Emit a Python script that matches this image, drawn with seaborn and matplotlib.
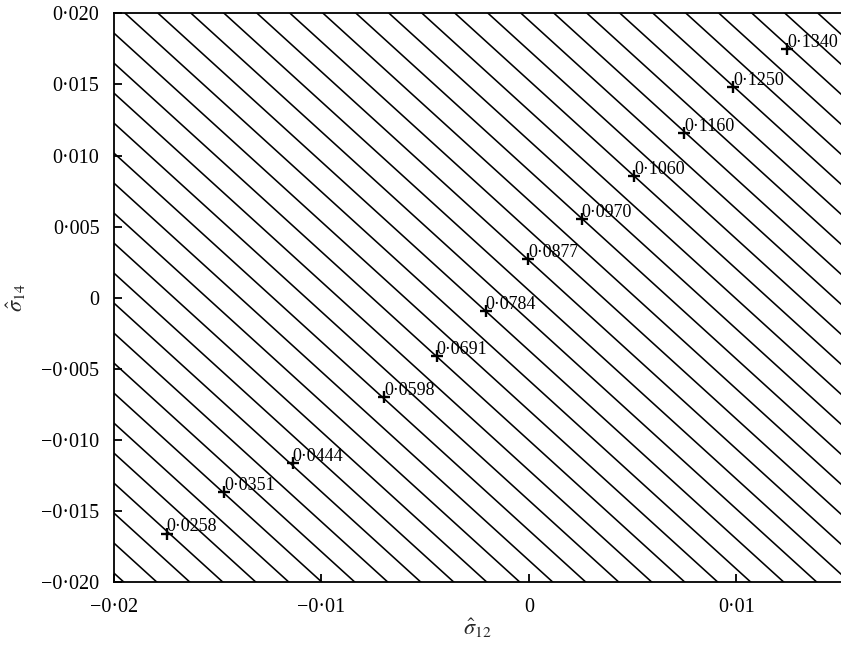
import numpy as np
import pandas as pd
import matplotlib
matplotlib.use("Agg")
import matplotlib.pyplot as plt
import seaborn as sns
from matplotlib.ticker import FixedLocator, FixedFormatter

# ---- data ----
sigma12 = [-0.01746, -0.01470, -0.01139, -0.00699, -0.00445, -0.00209,
           -0.00003, 0.00254, 0.00506, 0.00747, 0.00985, 0.01245]
sigma14 = [-0.01657, -0.01364, -0.01160, -0.00696, -0.00408, -0.00091,
           0.00272, 0.00553, 0.00858, 0.01160, 0.01480, 0.01749]
point_labels = ["0·0258", "0·0351", "0·0444", "0·0598", "0·0691", "0·0784",
                "0·0877", "0·0970", "0·1060", "0·1160", "0·1250", "0·1340"]

# linear field whose contours are drawn: v = c0 + a*s12 + b*s14
field_c0 = 0.08377
field_a = 1.9436
field_b = 1.4657
level_base = 0.0258
level_step = 0.003091
level_k = np.arange(-8, 42)

xticks = [-0.02, -0.01, 0.0, 0.01]
xticklabels = ["−0·02", "−0·01", "0", "0·01"]
yticks = [-0.020, -0.015, -0.010, -0.005, 0.0, 0.005, 0.010, 0.015, 0.020]
yticklabels = ["−0·020", "−0·015", "−0·010", "−0·005", "0",
               "0·005", "0·010", "0·015", "0·020"]

# ---- style ----
sns.set_style("white")
plt.rcParams["font.family"] = ["Liberation Serif", "DejaVu Serif"]
plt.rcParams["mathtext.fontset"] = "stix"

W, H = 841, 650
fig = plt.figure(figsize=(W / 100, H / 100), dpi=100)
ax = fig.add_axes([114 / W, (H - 582.3) / H, (W - 114) / W, (582.3 - 13.3) / H])

xmin, xmax = -0.02, 0.01504
ymin, ymax = -0.02, 0.02

gx = np.linspace(xmin - 0.002, xmax + 0.002, 300)
gy = np.linspace(ymin - 0.002, ymax + 0.002, 300)
GX, GY = np.meshgrid(gx, gy)
GZ = field_c0 + field_a * GX + field_b * GY
levels = level_base + level_step * level_k
ax.contour(GX, GY, GZ, levels=levels, colors="black", linewidths=1.15)

df = pd.DataFrame({"s12": sigma12, "s14": sigma14, "label": point_labels})
sns.scatterplot(data=df, x="s12", y="s14", marker="+", s=75, color="black",
                linewidth=1.7, ax=ax, zorder=5, legend=False)
for xv, yv, lab in zip(sigma12, sigma14, point_labels):
    ax.annotate(lab, (xv, yv), xytext=(0, 1.5), textcoords="offset points",
                ha="left", va="baseline", fontsize=13, color="black", zorder=6)

ax.set_xlim(xmin, xmax)
ax.set_ylim(ymin, ymax)

ax.xaxis.set_major_locator(FixedLocator(xticks))
ax.xaxis.set_major_formatter(FixedFormatter(xticklabels))
ax.yaxis.set_major_locator(FixedLocator(yticks))
ax.yaxis.set_major_formatter(FixedFormatter(yticklabels))

ax.tick_params(axis="both", direction="in", length=5.5, width=1.3,
               colors="black", labelsize=14.5, left=True, bottom=True,
               top=False, right=False)
ax.tick_params(axis="y", pad=10.5)
ax.tick_params(axis="x", pad=11.5)

for side in ["left", "bottom", "top"]:
    ax.spines[side].set_visible(True)
    ax.spines[side].set_linewidth(1.3)
    ax.spines[side].set_color("black")
ax.spines["right"].set_visible(False)

ax.set_xlabel(r"$\hat{\sigma}_{12}$", fontsize=16)
ax.set_ylabel(r"$\hat{\sigma}_{14}$", fontsize=16)
ax.xaxis.set_label_coords(0.50, -0.060)
ax.yaxis.set_label_coords(-0.118, 0.5)
ax.grid(False)

fig.savefig("out.png", dpi=100)
